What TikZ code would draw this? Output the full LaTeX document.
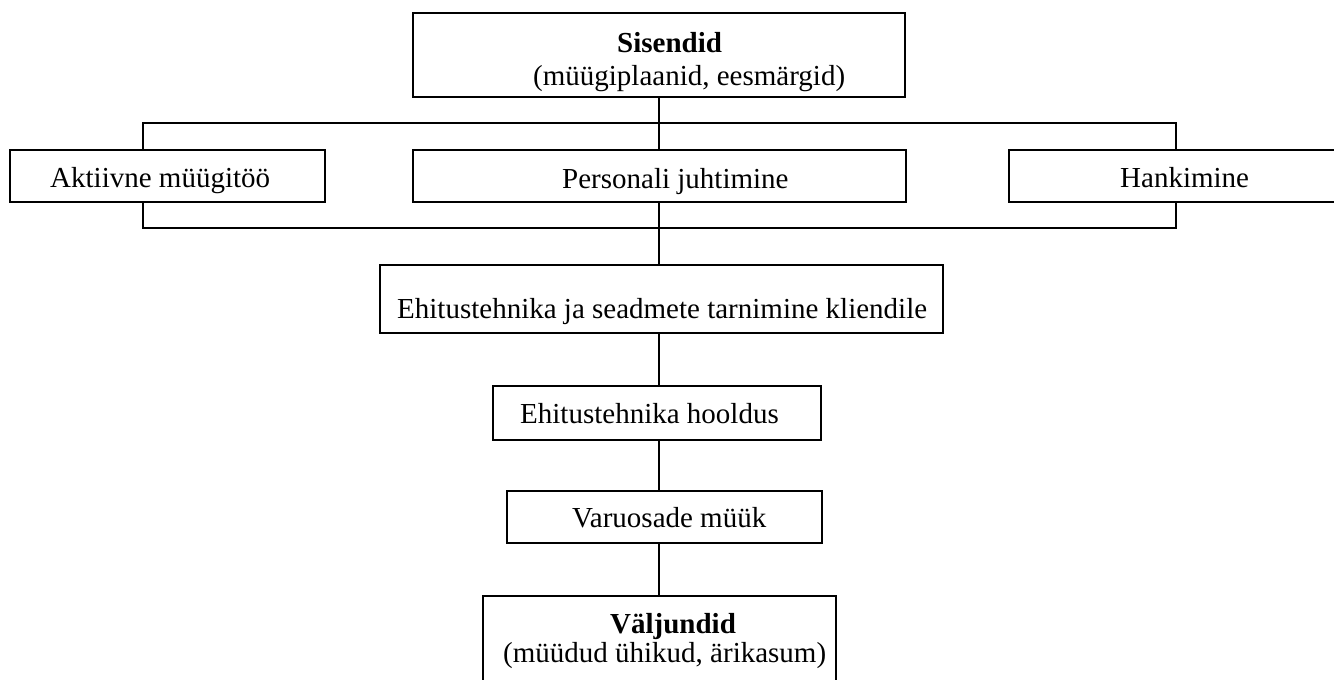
\documentclass[tikz,border=0pt]{standalone}
\usepackage{fontspec}
\setmainfont{Liberation Serif}
\usetikzlibrary{backgrounds}
\begin{document}
\begin{tikzpicture}[x=1pt,y=-1pt,
  box/.style={draw, line width=1.8pt, fill=white, inner sep=0pt},
  link/.style={line width=1.6pt},
  txt/.style={anchor=base west, inner sep=0pt, font=\fontsize{29}{34}\selectfont}]
\useasboundingbox (0,0) rectangle (1334,680);
\clip (0,0) rectangle (1334,680);

% boxes
\node[box, minimum width=492pt, minimum height=84pt]  (inputs)  at (659,55)    {};
\node[box, minimum width=315pt, minimum height=52pt]  (sales)   at (167.5,176) {};
\node[box, minimum width=493pt, minimum height=52pt]  (staff)   at (659.5,176) {};
\node[box, minimum width=336pt, minimum height=52pt]  (procure) at (1177,176)  {};
\node[box, minimum width=563pt, minimum height=68pt]  (deliver) at (661.5,299) {};
\node[box, minimum width=328pt, minimum height=54pt]  (service) at (657,413)   {};
\node[box, minimum width=315pt, minimum height=52pt]  (parts)   at (664.5,517) {};
\node[box, minimum width=353pt, minimum height=104pt] (outputs) at (659.5,648) {};

% labels
\node[txt, font=\fontsize{29}{34}\selectfont\bfseries] (t1) at (617,52) {Sisendid};
\node[txt] (t2) at (533,85)   {(müügiplaanid, eesmärgid)};
\node[txt] (t3) at (50,187)   {Aktiivne müügitöö};
\node[txt] (t4) at (562,188)  {Personali juhtimine};
\node[txt] (t5) at (1120,187) {Hankimine};
\node[txt] (t6) at (397,318)  {Ehitustehnika ja seadmete tarnimine kliendile};
\node[txt] (t7) at (520,423)  {Ehitustehnika hooldus};
\node[txt] (t8) at (572,527)  {Varuosade müük};
\node[txt, font=\fontsize{29}{34}\selectfont\bfseries] (t9) at (610,633) {Väljundid};
\node[txt] (t10) at (503,662) {(müüdud ühikud, ärikasum)};

% main axis and bracket frame
\coordinate (axis) at (659,0);
\coordinate (bracketNW) at (143,123);
\coordinate (bracketSE) at (1176,228);

\begin{scope}[on background layer]
  \draw[link] (bracketNW) rectangle (bracketSE);
  \draw[link] (inputs.south) -- (axis |- staff.north);
  \draw[link] (axis |- staff.south) -- (axis |- deliver.north);
\end{scope}
\draw[link] (axis |- deliver.south) -- (axis |- service.north);
\draw[link] (axis |- service.south) -- (axis |- parts.north);
\draw[link] (axis |- parts.south) -- (axis |- outputs.north);
\end{tikzpicture}
\end{document}
